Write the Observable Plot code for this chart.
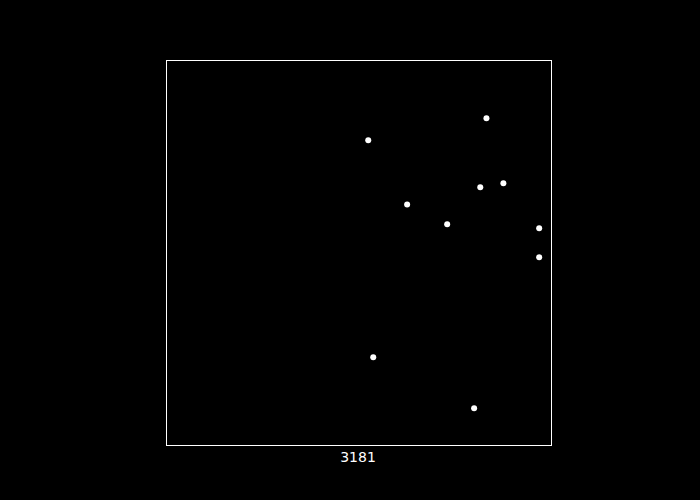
<!DOCTYPE html>
<html>
<head>
<meta charset="utf-8">
<script src="https://cdn.jsdelivr.net/npm/d3@7"></script>
<script src="https://cdn.jsdelivr.net/npm/@observablehq/plot@0.6"></script>
<style>
  html, body { margin: 0; padding: 0; background: #000; }
  #chart { width: 700px; height: 500px; }
</style>
</head>
<body>
<div id="chart"></div>
<script>
const xValues = [52.4, 83.1, 81.5, 87.5, 62.5, 72.9, 96.8, 96.8, 53.7, 79.9];
const yValues = [79.3, 85.0, 67.1, 68.1, 62.6, 57.5, 56.4, 48.9, 22.9, 9.7];
const caption = ["3181"];

const points = xValues.map((x, i) => ({x, y: yValues[i]}));

const chart = Plot.plot({
  width: 700,
  height: 500,
  marginLeft: 166,
  marginRight: 149,
  marginTop: 60,
  marginBottom: 55,
  style: {background: "#000", color: "#fff", fontFamily: "DejaVu Sans", fontSize: "14px"},
  x: {domain: [0, 100], axis: null},
  y: {domain: [0, 100], axis: null},
  marks: [
    Plot.frame({stroke: "#fff", strokeWidth: 1}),
    Plot.dot(points, {x: "x", y: "y", r: 3, fill: "#fff", stroke: "none"}),
    Plot.text(caption, {text: d => d, frameAnchor: "bottom", dx: -1, dy: 12, fill: "#fff", fontSize: 14, lineAnchor: "middle"})
  ]
});
document.getElementById("chart").appendChild(chart);
</script>
</body>
</html>
